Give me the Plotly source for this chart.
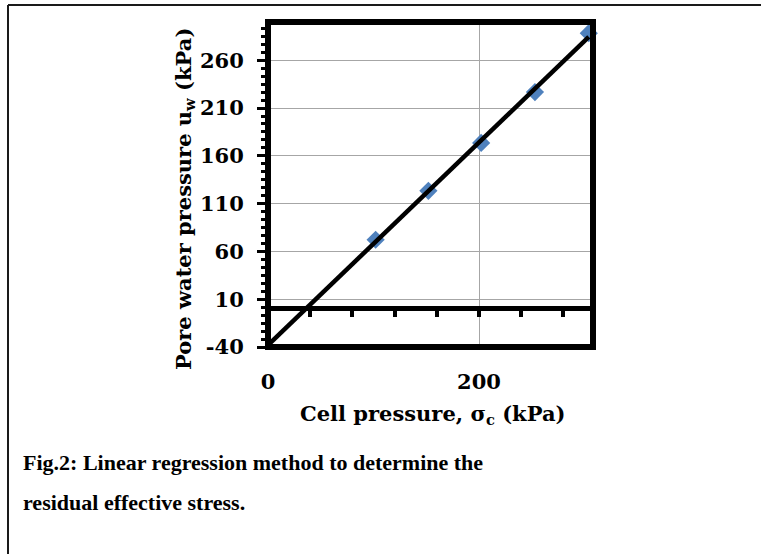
import numpy as np
import plotly.graph_objects as go

# ---- data ----
cell_pressure = [102, 152, 202, 253, 304]          # sigma_c (kPa)
pore_pressure = [72.2, 123.4, 173.5, 226.7, 288.3]  # u_w (kPa)

x_range = [0, 308]
y_range = [-40, 300]
y_tick_values = [-40, 10, 60, 110, 160, 210, 260]
y_tick_labels = ["-40", "10", "60", "110", "160", "210", "260"]
x_tick_values = [0, 200]
x_tick_labels = ["0", "200"]
y_minor_step = 50 / 6
zero_axis_tick_step = 40

caption_line1 = "Fig.2: Linear regression method to determine the"
caption_line2 = "residual effective stress."
x_title = "Cell pressure, σ<sub>c</sub> (kPa)"
y_title = "Pore water pressure u<sub>w</sub> (kPa)"

# linear regression of the data
slope, intercept = np.polyfit(cell_pressure, pore_pressure, 1)
trend_x = [0, max(cell_pressure)]
trend_y = [intercept + slope * v for v in trend_x]

# ---- layout geometry ----
W, H = 761, 554
ML, MR, MT, MB = 268, 168, 22, 207
PW = W - ML - MR
PH = H - MT - MB


def pxx(px):
    return (px - ML) / PW


def pxy(py):
    return (H - MB - py) / PH


chart_font = dict(family="DejaVu Serif", size=21, color="black", weight="bold")
caption_font = dict(family="Liberation Serif", size=22, color="black", weight="bold")

fig = go.Figure()

fig.add_trace(go.Scatter(
    x=cell_pressure, y=pore_pressure, mode="markers",
    marker=dict(symbol="diamond", size=14, color="#4F81BD", line=dict(width=0)),
    cliponaxis=False, showlegend=False, hoverinfo="skip",
))
fig.add_trace(go.Scatter(
    x=trend_x, y=trend_y, mode="lines",
    line=dict(color="black", width=4.5),
    cliponaxis=True, showlegend=False, hoverinfo="skip",
))
# invisible trace so that the secondary (zero-line tick) axis is drawn
fig.add_trace(go.Scatter(
    x=cell_pressure, y=pore_pressure, xaxis="x2", mode="markers",
    marker=dict(opacity=0), showlegend=False, hoverinfo="skip",
))

fig.update_layout(
    width=W, height=H,
    margin=dict(l=ML, r=MR, t=MT, b=MB),
    paper_bgcolor="white", plot_bgcolor="white",
    showlegend=False,
    font=chart_font,
    xaxis=dict(
        range=x_range, tickmode="array", tickvals=x_tick_values, ticktext=x_tick_labels,
        showgrid=True, gridcolor="#a6a6a6", gridwidth=1,
        zeroline=False, showline=False, ticks="",
        tickfont=chart_font, ticklabelstandoff=20,
    ),
    xaxis2=dict(
        range=x_range, overlaying="x", anchor="free",
        position=(0 - y_range[0]) / (y_range[1] - y_range[0]),
        side="bottom", tick0=0, dtick=zero_axis_tick_step,
        ticks="outside", ticklen=7, tickwidth=4, tickcolor="black",
        showticklabels=False, showgrid=False, zeroline=False, showline=False,
    ),
    yaxis=dict(
        range=y_range, tickmode="array", tickvals=y_tick_values, ticktext=y_tick_labels,
        showgrid=True, gridcolor="#a6a6a6", gridwidth=1,
        zeroline=True, zerolinecolor="black", zerolinewidth=5,
        showline=True, linecolor="black", linewidth=1,
        ticks="outside", ticklen=10, tickwidth=3, tickcolor="black",
        minor=dict(ticks="outside", ticklen=6, tickwidth=3, tickcolor="black",
                   tick0=y_range[0], dtick=y_minor_step, showgrid=False),
        tickfont=chart_font, ticklabelstandoff=9,
    ),
    shapes=[
        dict(type="rect", xref="paper", yref="paper", x0=0, x1=1, y0=0, y1=1,
             line=dict(color="black", width=6), fillcolor="rgba(0,0,0,0)", layer="above"),
        dict(type="line", xref="paper", yref="paper", x0=pxx(8), x1=pxx(W + 5),
             y0=pxy(5), y1=pxy(5), line=dict(color="#1a1a1a", width=2)),
        dict(type="line", xref="paper", yref="paper", x0=pxx(8), x1=pxx(8),
             y0=pxy(5), y1=pxy(H + 5), line=dict(color="#1a1a1a", width=2)),
    ],
    annotations=[
        dict(text=y_title, xref="paper", yref="paper", x=pxx(184), y=pxy(199),
             textangle=-90, showarrow=False, xanchor="center", yanchor="middle", font=chart_font),
        dict(text=x_title, xref="paper", yref="paper", x=pxx(432), y=pxy(414),
             showarrow=False, xanchor="center", yanchor="middle", font=chart_font),
        dict(text=caption_line1, xref="paper", yref="paper", x=pxx(21), y=pxy(462),
             showarrow=False, xanchor="left", yanchor="middle", font=caption_font),
        dict(text=caption_line2, xref="paper", yref="paper", x=pxx(21), y=pxy(502),
             showarrow=False, xanchor="left", yanchor="middle", font=caption_font),
    ],
)

fig.write_html("out.html",
               config={"displayModeBar": False},
               post_script="document.body.style.margin='0';document.body.style.overflow='hidden';")
